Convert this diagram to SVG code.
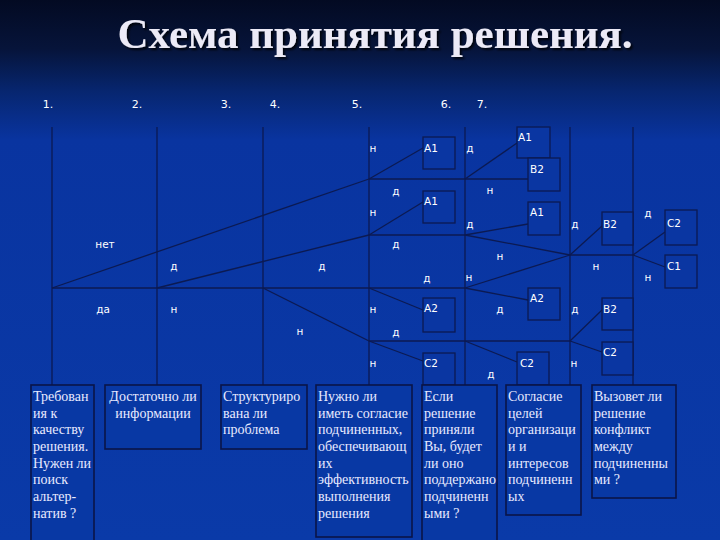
<svg xmlns="http://www.w3.org/2000/svg" width="720" height="540" viewBox="0 0 720 540">
<defs>
<linearGradient id="bg" x1="0" y1="0" x2="0" y2="1">
<stop offset="0" stop-color="#030a22"/>
<stop offset="0.09" stop-color="#06143a"/>
<stop offset="0.17" stop-color="#072670"/>
<stop offset="0.26" stop-color="#0934a0"/>
<stop offset="1" stop-color="#0a3aa8"/>
</linearGradient>
<filter id="sh" x="-5%" y="-20%" width="110%" height="140%">
<feDropShadow dx="2" dy="2" stdDeviation="1" flood-color="#000" flood-opacity="0.8"/>
</filter>
<style>
.ln{stroke:#0c1a52;stroke-width:1.3;fill:none}
.bx{stroke:#0c1a52;stroke-width:1.3;fill:#0a36a2}
.tb{stroke:#0a1448;stroke-width:1.6;fill:#0838a4}
.lb{font-family:"DejaVu Sans",sans-serif;font-size:10.5px;fill:#ffffff}
.nm{font-family:"DejaVu Sans",sans-serif;font-size:11px;fill:#ffffff}
.bt{font-family:"Liberation Serif",serif;font-size:14px;fill:#e8eaff}
.ti{font-family:"Liberation Serif",serif;font-size:43px;font-weight:bold;fill:#eceaf6}
</style>
</defs>
<rect width="720" height="540" fill="url(#bg)"/>
<text class="ti" x="375" y="48" text-anchor="middle" filter="url(#sh)">Схема принятия решения.</text>
<g id="numbers">
<text class="nm" x="48" y="108" text-anchor="middle">1.</text>
<text class="nm" x="137" y="108" text-anchor="middle">2.</text>
<text class="nm" x="226" y="108" text-anchor="middle">3.</text>
<text class="nm" x="275" y="108" text-anchor="middle">4.</text>
<text class="nm" x="357" y="108" text-anchor="middle">5.</text>
<text class="nm" x="446" y="108" text-anchor="middle">6.</text>
<text class="nm" x="482" y="108" text-anchor="middle">7.</text>
</g>
<g id="connectors">
<line class="ln" x1="52" y1="127" x2="52" y2="385"/>
<line class="ln" x1="157" y1="127" x2="157" y2="385"/>
<line class="ln" x1="263" y1="127" x2="263" y2="385"/>
<line class="ln" x1="369" y1="127" x2="369" y2="385"/>
<line class="ln" x1="465" y1="127" x2="465" y2="385"/>
<line class="ln" x1="570" y1="127" x2="570" y2="385"/>
<line class="ln" x1="633" y1="127" x2="633" y2="385"/>
<line class="ln" x1="52" y1="288" x2="369" y2="179"/>
<line class="ln" x1="52" y1="288" x2="465" y2="288"/>
<line class="ln" x1="157" y1="288" x2="369" y2="235"/>
<line class="ln" x1="263" y1="288" x2="369" y2="341"/>
<line class="ln" x1="369" y1="179" x2="423" y2="148"/>
<line class="ln" x1="369" y1="179" x2="528" y2="179"/>
<line class="ln" x1="465" y1="179" x2="517" y2="143"/>
<line class="ln" x1="369" y1="235" x2="423" y2="202"/>
<line class="ln" x1="369" y1="235" x2="465" y2="235"/>
<line class="ln" x1="465" y1="235" x2="528" y2="224"/>
<line class="ln" x1="465" y1="235" x2="570" y2="255"/>
<line class="ln" x1="465" y1="288" x2="570" y2="255"/>
<line class="ln" x1="369" y1="288" x2="423" y2="310"/>
<line class="ln" x1="465" y1="288" x2="528" y2="300"/>
<line class="ln" x1="369" y1="341" x2="423" y2="361"/>
<line class="ln" x1="369" y1="341" x2="570" y2="341"/>
<line class="ln" x1="465" y1="341" x2="517" y2="362"/>
<line class="ln" x1="570" y1="255" x2="602" y2="226"/>
<line class="ln" x1="570" y1="255" x2="633" y2="255"/>
<line class="ln" x1="570" y1="341" x2="602" y2="310"/>
<line class="ln" x1="570" y1="341" x2="602" y2="352"/>
<line class="ln" x1="633" y1="255" x2="665" y2="232"/>
<line class="ln" x1="633" y1="255" x2="665" y2="267"/>
</g>
<g id="branch-labels">
<text class="lb" x="105" y="248" text-anchor="middle">нет</text>
<text class="lb" x="103" y="313" text-anchor="middle">да</text>
<text class="lb" x="174" y="270" text-anchor="middle">д</text>
<text class="lb" x="174" y="313" text-anchor="middle">н</text>
<text class="lb" x="322" y="270" text-anchor="middle">д</text>
<text class="lb" x="300" y="335" text-anchor="middle">н</text>
<text class="lb" x="373" y="152" text-anchor="middle">н</text>
<text class="lb" x="470" y="152" text-anchor="middle">д</text>
<text class="lb" x="396" y="195" text-anchor="middle">д</text>
<text class="lb" x="490" y="194" text-anchor="middle">н</text>
<text class="lb" x="373" y="216" text-anchor="middle">н</text>
<text class="lb" x="470" y="228" text-anchor="middle">д</text>
<text class="lb" x="575" y="228" text-anchor="middle">д</text>
<text class="lb" x="648" y="217" text-anchor="middle">д</text>
<text class="lb" x="396" y="248" text-anchor="middle">д</text>
<text class="lb" x="500" y="260" text-anchor="middle">н</text>
<text class="lb" x="596" y="270" text-anchor="middle">н</text>
<text class="lb" x="648" y="281" text-anchor="middle">н</text>
<text class="lb" x="427" y="282" text-anchor="middle">д</text>
<text class="lb" x="469" y="281" text-anchor="middle">н</text>
<text class="lb" x="373" y="313" text-anchor="middle">н</text>
<text class="lb" x="500" y="313" text-anchor="middle">д</text>
<text class="lb" x="575" y="313" text-anchor="middle">д</text>
<text class="lb" x="396" y="336" text-anchor="middle">д</text>
<text class="lb" x="373" y="367" text-anchor="middle">н</text>
<text class="lb" x="491" y="378" text-anchor="middle">д</text>
<text class="lb" x="574" y="367" text-anchor="middle">н</text>
</g>
<g id="node-a1-1"><rect class="bx" x="423" y="137" width="32" height="32"/><text class="lb" x="424" y="152">А1</text></g>
<g id="node-a1-2"><rect class="bx" x="517" y="127" width="33" height="31"/><text class="lb" x="518" y="141">А1</text></g>
<g id="node-b2-1"><rect class="bx" x="528" y="158" width="32" height="33"/><text class="lb" x="530" y="173">В2</text></g>
<g id="node-a1-3"><rect class="bx" x="423" y="191" width="32" height="32"/><text class="lb" x="424" y="205">А1</text></g>
<g id="node-a1-4"><rect class="bx" x="528" y="202" width="32" height="33"/><text class="lb" x="530" y="216">А1</text></g>
<g id="node-b2-2"><rect class="bx" x="602" y="212" width="31" height="33"/><text class="lb" x="603" y="228">В2</text></g>
<g id="node-c2-1"><rect class="bx" x="665" y="210" width="32" height="35"/><text class="lb" x="667" y="227">С2</text></g>
<g id="node-c1"><rect class="bx" x="665" y="255" width="32" height="33"/><text class="lb" x="667" y="270">С1</text></g>
<g id="node-a2-1"><rect class="bx" x="423" y="298" width="32" height="34"/><text class="lb" x="424" y="312">А2</text></g>
<g id="node-a2-2"><rect class="bx" x="528" y="288" width="32" height="32"/><text class="lb" x="530" y="302">А2</text></g>
<g id="node-b2-3"><rect class="bx" x="602" y="298" width="31" height="32"/><text class="lb" x="603" y="313">В2</text></g>
<g id="node-c2-2"><rect class="bx" x="423" y="353" width="32" height="32"/><text class="lb" x="424" y="367">С2</text></g>
<g id="node-c2-3"><rect class="bx" x="517" y="352" width="32" height="33"/><text class="lb" x="520" y="367">С2</text></g>
<g id="node-c2-4"><rect class="bx" x="602" y="342" width="31" height="33"/><text class="lb" x="603" y="356">С2</text></g>
<g id="q1"><rect class="tb" x="31" y="385" width="63" height="160"/>
<text class="bt" x="33" y="401">Требован</text><text class="bt" x="33" y="418">ия к</text><text class="bt" x="33" y="434">качеству</text><text class="bt" x="33" y="451">решения.</text><text class="bt" x="33" y="468">Нужен ли</text><text class="bt" x="33" y="484">поиск</text><text class="bt" x="33" y="501">альтер-</text><text class="bt" x="33" y="518">натив ?</text></g>
<g id="q2"><rect class="tb" x="105" y="385" width="96" height="64"/>
<text class="bt" x="153" y="401" text-anchor="middle">Достаточно ли</text><text class="bt" x="153" y="418" text-anchor="middle">информации</text></g>
<g id="q3"><rect class="tb" x="221" y="385" width="86" height="64"/>
<text class="bt" x="223" y="401">Структуриро</text><text class="bt" x="223" y="418">вана ли</text><text class="bt" x="223" y="434">проблема</text></g>
<g id="q4"><rect class="tb" x="316" y="385" width="96" height="152"/>
<text class="bt" x="318" y="401">Нужно ли</text><text class="bt" x="318" y="418">иметь согласие</text><text class="bt" x="318" y="434">подчиненных,</text><text class="bt" x="318" y="451">обеспечивающ</text><text class="bt" x="318" y="468">их</text><text class="bt" x="318" y="484">эффективность</text><text class="bt" x="318" y="501">выполнения</text><text class="bt" x="318" y="518">решения</text></g>
<g id="q5"><rect class="tb" x="422" y="385" width="75" height="160"/>
<text class="bt" x="424" y="401">Если</text><text class="bt" x="424" y="418">решение</text><text class="bt" x="424" y="434">приняли</text><text class="bt" x="424" y="451">Вы, будет</text><text class="bt" x="424" y="468">ли оно</text><text class="bt" x="424" y="484">поддержано</text><text class="bt" x="424" y="501">подчиненн</text><text class="bt" x="424" y="518">ыми ?</text></g>
<g id="q6"><rect class="tb" x="506" y="385" width="75" height="130"/>
<text class="bt" x="508" y="401">Согласие</text><text class="bt" x="508" y="418">целей</text><text class="bt" x="508" y="434">организаци</text><text class="bt" x="508" y="451">и и</text><text class="bt" x="508" y="468">интересов</text><text class="bt" x="508" y="484">подчиненн</text><text class="bt" x="508" y="501">ых</text></g>
<g id="q7"><rect class="tb" x="592" y="385" width="84" height="113"/>
<text class="bt" x="594" y="401">Вызовет ли</text><text class="bt" x="594" y="418">решение</text><text class="bt" x="594" y="434">конфликт</text><text class="bt" x="594" y="451">между</text><text class="bt" x="594" y="468">подчиненны</text><text class="bt" x="594" y="484">ми ?</text></g>
</svg>
